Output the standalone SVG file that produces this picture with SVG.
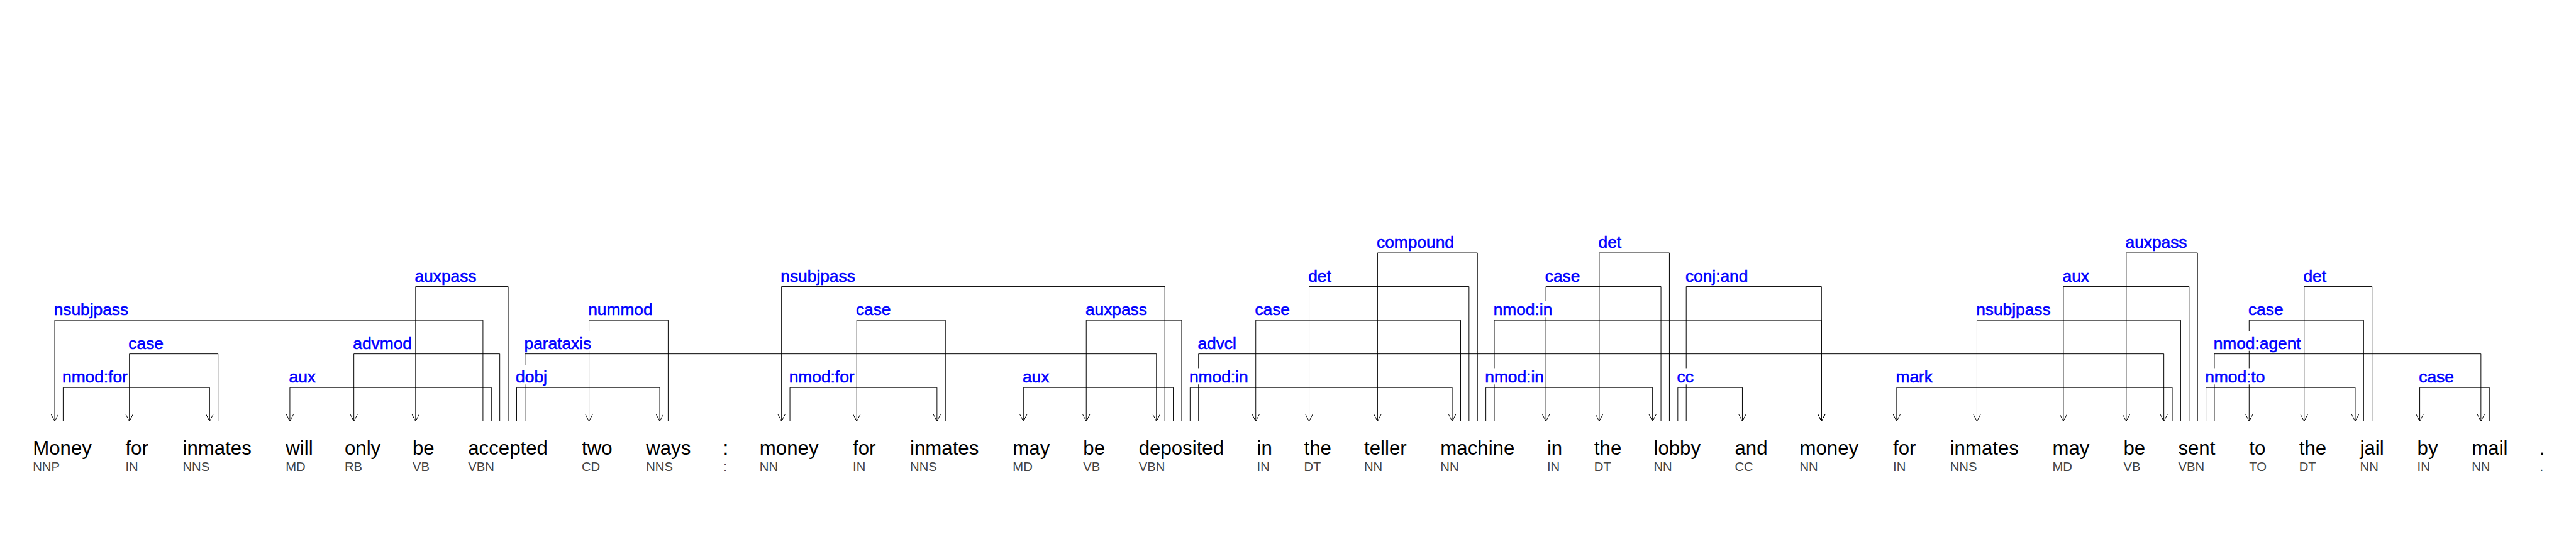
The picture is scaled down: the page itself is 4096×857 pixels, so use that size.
<svg xmlns="http://www.w3.org/2000/svg" width="4096" height="857" viewBox="0 0 4096 857">
<style>
.w{font-family:"Liberation Sans",Arial,sans-serif;font-size:35px;fill:#000}
.p{font-family:"Liberation Sans",Arial,sans-serif;font-size:22.7px;fill:#444}
.l{font-family:"Liberation Sans",Arial,sans-serif;font-size:29.5px;fill:#0000ff;stroke:#0000ff;stroke-width:0.7}
.bg{fill:#fff}
.c{fill:none;stroke:#000;stroke-width:1.1;marker-end:url(#arr)}
</style>
<defs>
<marker id="arr" markerUnits="userSpaceOnUse" viewBox="-14 -8 16 16" markerWidth="16" markerHeight="16" refX="0" refY="0" orient="auto">
<path d="M-12,-6.3 L0,0 L-12,6.3" fill="none" stroke="#000" stroke-width="1.1"/>
</marker>
</defs>
<rect width="4096" height="857" fill="#fff"/>
<g transform="scale(0.8924)">
<g id="connectors">
<path class="c" d="M860.5,750.5 V570.5 H97.5 V750.5"/>
<path class="c" d="M388.5,750.5 V630.5 H230.5 V750.5"/>
<path class="c" d="M112.5,750.5 V690.5 H373.5 V750.5"/>
<path class="c" d="M875.5,750.5 V690.5 H516.5 V750.5"/>
<path class="c" d="M890.5,750.5 V630.5 H630.5 V750.5"/>
<path class="c" d="M905.5,750.5 V510.5 H740.5 V750.5"/>
<path class="c" d="M920.5,750.5 V690.5 H1175.5 V750.5"/>
<path class="c" d="M935.5,750.5 V630.5 H2060.5 V750.5"/>
<path class="c" d="M1190.5,750.5 V570.5 H1049.5 V750.5"/>
<path class="c" d="M2075.5,750.5 V510.5 H1392.5 V750.5"/>
<path class="c" d="M1407.5,750.5 V690.5 H1669.5 V750.5"/>
<path class="c" d="M1684.5,750.5 V570.5 H1526.5 V750.5"/>
<path class="c" d="M2090.5,750.5 V690.5 H1823.5 V750.5"/>
<path class="c" d="M2105.5,750.5 V570.5 H1935.5 V750.5"/>
<path class="c" d="M2120.5,750.5 V690.5 H2587.5 V750.5"/>
<path class="c" d="M2135.5,750.5 V630.5 H3855.5 V750.5"/>
<path class="c" d="M2602.5,750.5 V570.5 H2237.5 V750.5"/>
<path class="c" d="M2617.5,750.5 V510.5 H2332.5 V750.5"/>
<path class="c" d="M2632.5,750.5 V450.5 H2454.5 V750.5"/>
<path class="c" d="M2647.5,750.5 V690.5 H2944.5 V750.5"/>
<path class="c" d="M2662.5,750.5 V570.5 H3245.5 V750.5"/>
<path class="c" d="M2959.5,750.5 V510.5 H2754.5 V750.5"/>
<path class="c" d="M2974.5,750.5 V450.5 H2849.5 V750.5"/>
<path class="c" d="M2989.5,750.5 V690.5 H3104.5 V750.5"/>
<path class="c" d="M3004.5,750.5 V510.5 H3245.5 V750.5"/>
<path class="c" d="M3870.5,750.5 V690.5 H3379.5 V750.5"/>
<path class="c" d="M3885.5,750.5 V570.5 H3522.5 V750.5"/>
<path class="c" d="M3900.5,750.5 V510.5 H3676.5 V750.5"/>
<path class="c" d="M3915.5,750.5 V450.5 H3788.5 V750.5"/>
<path class="c" d="M3930.5,750.5 V690.5 H4196.5 V750.5"/>
<path class="c" d="M3945.5,750.5 V630.5 H4420.5 V750.5"/>
<path class="c" d="M4211.5,750.5 V570.5 H4007.5 V750.5"/>
<path class="c" d="M4226.5,750.5 V510.5 H4105.5 V750.5"/>
<path class="c" d="M4435.5,750.5 V690.5 H4311.5 V750.5"/>
</g>
<g id="labels">
<rect class="bg" x="96" y="532" width="132" height="33"/><text class="l" x="96" y="561.5">nsubjpass</text>
<rect class="bg" x="229" y="596" width="61" height="29"/><text class="l" x="229" y="621.5">case</text>
<rect class="bg" x="111" y="656" width="116" height="29"/><text class="l" x="111" y="681.5">nmod:for</text>
<rect class="bg" x="515" y="656" width="46" height="29"/><text class="l" x="515" y="681.5">aux</text>
<rect class="bg" x="629" y="596" width="103" height="29"/><text class="l" x="629" y="621.5">advmod</text>
<rect class="bg" x="739" y="470" width="108" height="35"/><text class="l" x="739" y="501.5">auxpass</text>
<rect class="bg" x="919" y="650" width="54" height="35"/><text class="l" x="919" y="681.5">dobj</text>
<rect class="bg" x="934" y="590" width="118" height="35"/><text class="l" x="934" y="621.5">parataxis</text>
<rect class="bg" x="1048" y="536" width="113" height="29"/><text class="l" x="1048" y="561.5">nummod</text>
<rect class="bg" x="1391" y="470" width="131" height="35"/><text class="l" x="1391" y="501.5">nsubjpass</text>
<rect class="bg" x="1406" y="656" width="115" height="29"/><text class="l" x="1406" y="681.5">nmod:for</text>
<rect class="bg" x="1525" y="536" width="61" height="29"/><text class="l" x="1525" y="561.5">case</text>
<rect class="bg" x="1822" y="656" width="46" height="29"/><text class="l" x="1822" y="681.5">aux</text>
<rect class="bg" x="1934" y="530" width="108" height="35"/><text class="l" x="1934" y="561.5">auxpass</text>
<rect class="bg" x="2119" y="656" width="103" height="29"/><text class="l" x="2119" y="681.5">nmod:in</text>
<rect class="bg" x="2134" y="596" width="67" height="29"/><text class="l" x="2134" y="621.5">advcl</text>
<rect class="bg" x="2236" y="536" width="61" height="29"/><text class="l" x="2236" y="561.5">case</text>
<rect class="bg" x="2331" y="476" width="40" height="29"/><text class="l" x="2331" y="501.5">det</text>
<rect class="bg" x="2453" y="410" width="136" height="35"/><text class="l" x="2453" y="441.5">compound</text>
<rect class="bg" x="2646" y="656" width="103" height="29"/><text class="l" x="2646" y="681.5">nmod:in</text>
<rect class="bg" x="2661" y="536" width="103" height="29"/><text class="l" x="2661" y="561.5">nmod:in</text>
<rect class="bg" x="2753" y="476" width="61" height="29"/><text class="l" x="2753" y="501.5">case</text>
<rect class="bg" x="2848" y="416" width="40" height="29"/><text class="l" x="2848" y="441.5">det</text>
<rect class="bg" x="2988" y="656" width="28" height="29"/><text class="l" x="2988" y="681.5">cc</text>
<rect class="bg" x="3003" y="470" width="110" height="35"/><text class="l" x="3003" y="501.5">conj:and</text>
<rect class="bg" x="3378" y="656" width="64" height="29"/><text class="l" x="3378" y="681.5">mark</text>
<rect class="bg" x="3521" y="530" width="131" height="35"/><text class="l" x="3521" y="561.5">nsubjpass</text>
<rect class="bg" x="3675" y="476" width="46" height="29"/><text class="l" x="3675" y="501.5">aux</text>
<rect class="bg" x="3787" y="410" width="108" height="35"/><text class="l" x="3787" y="441.5">auxpass</text>
<rect class="bg" x="3929" y="656" width="105" height="29"/><text class="l" x="3929" y="681.5">nmod:to</text>
<rect class="bg" x="3944" y="590" width="154" height="35"/><text class="l" x="3944" y="621.5">nmod:agent</text>
<rect class="bg" x="4006" y="536" width="61" height="29"/><text class="l" x="4006" y="561.5">case</text>
<rect class="bg" x="4104" y="476" width="40" height="29"/><text class="l" x="4104" y="501.5">det</text>
<rect class="bg" x="4310" y="656" width="61" height="29"/><text class="l" x="4310" y="681.5">case</text>
</g>
<g id="w1"><text class="w" x="58.5" y="810">Money</text><text class="p" x="58.5" y="839.5">NNP</text></g>
<g id="w2"><text class="w" x="223.5" y="810">for</text><text class="p" x="223.5" y="839.5">IN</text></g>
<g id="w3"><text class="w" x="325.5" y="810">inmates</text><text class="p" x="325.5" y="839.5">NNS</text></g>
<g id="w4"><text class="w" x="509" y="810">will</text><text class="p" x="509" y="839.5">MD</text></g>
<g id="w5"><text class="w" x="614" y="810">only</text><text class="p" x="614" y="839.5">RB</text></g>
<g id="w6"><text class="w" x="735" y="810">be</text><text class="p" x="735" y="839.5">VB</text></g>
<g id="w7"><text class="w" x="834" y="810">accepted</text><text class="p" x="834" y="839.5">VBN</text></g>
<g id="w8"><text class="w" x="1036.5" y="810">two</text><text class="p" x="1036.5" y="839.5">CD</text></g>
<g id="w9"><text class="w" x="1151" y="810">ways</text><text class="p" x="1151" y="839.5">NNS</text></g>
<g id="w10"><text class="w" x="1288" y="810">:</text><text class="p" x="1289" y="839.5">:</text></g>
<g id="w11"><text class="w" x="1353.5" y="810">money</text><text class="p" x="1353.5" y="839.5">NN</text></g>
<g id="w12"><text class="w" x="1519.5" y="810">for</text><text class="p" x="1519.5" y="839.5">IN</text></g>
<g id="w13"><text class="w" x="1621.5" y="810">inmates</text><text class="p" x="1621.5" y="839.5">NNS</text></g>
<g id="w14"><text class="w" x="1804.5" y="810">may</text><text class="p" x="1804.5" y="839.5">MD</text></g>
<g id="w15"><text class="w" x="1930" y="810">be</text><text class="p" x="1930" y="839.5">VB</text></g>
<g id="w16"><text class="w" x="2029" y="810">deposited</text><text class="p" x="2029" y="839.5">VBN</text></g>
<g id="w17"><text class="w" x="2239.5" y="810">in</text><text class="p" x="2239.5" y="839.5">IN</text></g>
<g id="w18"><text class="w" x="2323.5" y="810">the</text><text class="p" x="2323.5" y="839.5">DT</text></g>
<g id="w19"><text class="w" x="2430.5" y="810">teller</text><text class="p" x="2430.5" y="839.5">NN</text></g>
<g id="w20"><text class="w" x="2566.5" y="810">machine</text><text class="p" x="2566.5" y="839.5">NN</text></g>
<g id="w21"><text class="w" x="2756.5" y="810">in</text><text class="p" x="2756.5" y="839.5">IN</text></g>
<g id="w22"><text class="w" x="2840.5" y="810">the</text><text class="p" x="2840.5" y="839.5">DT</text></g>
<g id="w23"><text class="w" x="2946.5" y="810">lobby</text><text class="p" x="2946.5" y="839.5">NN</text></g>
<g id="w24"><text class="w" x="3091" y="810">and</text><text class="p" x="3091" y="839.5">CC</text></g>
<g id="w25"><text class="w" x="3206.5" y="810">money</text><text class="p" x="3206.5" y="839.5">NN</text></g>
<g id="w26"><text class="w" x="3373" y="810">for</text><text class="p" x="3373" y="839.5">IN</text></g>
<g id="w27"><text class="w" x="3474.5" y="810">inmates</text><text class="p" x="3474.5" y="839.5">NNS</text></g>
<g id="w28"><text class="w" x="3657" y="810">may</text><text class="p" x="3657" y="839.5">MD</text></g>
<g id="w29"><text class="w" x="3783.5" y="810">be</text><text class="p" x="3783.5" y="839.5">VB</text></g>
<g id="w30"><text class="w" x="3881" y="810">sent</text><text class="p" x="3881" y="839.5">VBN</text></g>
<g id="w31"><text class="w" x="4007.5" y="810">to</text><text class="p" x="4007.5" y="839.5">TO</text></g>
<g id="w32"><text class="w" x="4096.5" y="810">the</text><text class="p" x="4096.5" y="839.5">DT</text></g>
<g id="w33"><text class="w" x="4205" y="810">jail</text><text class="p" x="4205" y="839.5">NN</text></g>
<g id="w34"><text class="w" x="4307" y="810">by</text><text class="p" x="4307" y="839.5">IN</text></g>
<g id="w35"><text class="w" x="4404" y="810">mail</text><text class="p" x="4404" y="839.5">NN</text></g>
<g id="w36"><text class="w" x="4524.5" y="810">.</text><text class="p" x="4525.5" y="839.5">.</text></g>
</g>
</svg>
